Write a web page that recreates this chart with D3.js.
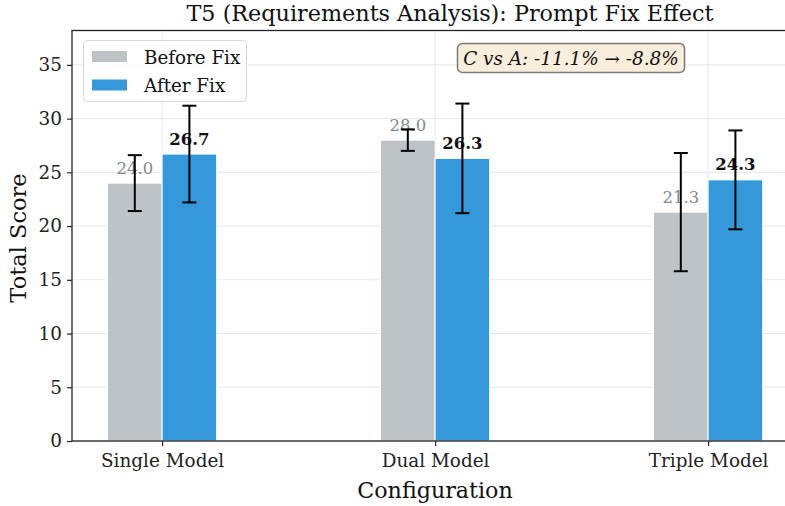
<!DOCTYPE html>
<html><head><meta charset="utf-8">
<script src="https://cdn.jsdelivr.net/npm/d3@7"></script>
<style>
body{margin:0;background:#fff;}
text{font-family:"DejaVu Serif",serif;}
</style></head>
<body><svg id="c" width="785" height="506"></svg>
<script>
const categories = ["Single Model","Dual Model","Triple Model"];
const beforeValues = [24.0, 28.0, 21.3];
const afterValues = [26.7, 26.3, 24.3];
const beforeErr = [2.6, 1.0, 5.5];
const afterErr = [4.5, 5.1, 4.6];
const yTicks = [0,5,10,15,20,25,30,35];
const seriesNames = ["Before Fix","After Fix"];
const annotationText = "C vs A: -11.1% \u2192 -8.8%";
const titleText = "T5 (Requirements Analysis): Prompt Fix Effect";

const colBefore = "#bdc3c7", colAfter = "#3498db", colBeforeLbl = "#7f8c8d";
const svg = d3.select("#c");
const L = 72, R = 798.2, T = 30.5, B = 441;
const x = d3.scaleLinear().domain([-0.33, 2.33]).range([L, R]);
const y = d3.scaleLinear().domain([0, 38.2]).range([B, T]);
const bw = 0.2;

const g = svg.append("g");
// grid
g.selectAll(".hg").data(yTicks).join("line")
  .attr("x1", L).attr("x2", R).attr("y1", d=>y(d)).attr("y2", d=>y(d))
  .attr("stroke", "#e6e6e6").attr("stroke-width", 1);
g.selectAll(".vg").data(categories).join("line")
  .attr("x1", (d,i)=>x(i)).attr("x2", (d,i)=>x(i)).attr("y1", T).attr("y2", B)
  .attr("stroke", "#e6e6e6").attr("stroke-width", 1);

// bars
const series = [
  {vals: beforeValues, err: beforeErr, off: -bw/2, col: colBefore},
  {vals: afterValues, err: afterErr, off: bw/2, col: colAfter}
];
series.forEach(s => {
  g.selectAll(null).data(s.vals).join("rect")
    .attr("x", (d,i)=>x(i + s.off - bw/2))
    .attr("width", x(bw) - x(0))
    .attr("y", d=>y(d)).attr("height", d=>y(0)-y(d))
    .attr("fill", s.col).attr("stroke", "#fff").attr("stroke-width", 1);
});
// value labels
g.selectAll(null).data(beforeValues).join("text")
  .attr("x", (d,i)=>x(i - bw/2)).attr("y", d=>y(d+0.5)-4)
  .attr("text-anchor","middle").attr("font-size", 16.5).attr("fill", colBeforeLbl)
  .text(d=>d.toFixed(1));
g.selectAll(null).data(afterValues).join("text")
  .attr("x", (d,i)=>x(i + bw/2)).attr("y", d=>y(d+0.5)-4)
  .attr("text-anchor","middle").attr("font-size", 16.5).attr("font-weight","bold").attr("fill", "#111")
  .text(d=>d.toFixed(1));
// error bars
series.forEach(s => {
  const eg = g.selectAll(null).data(s.vals).join("g");
  eg.append("line").attr("x1",(d,i)=>x(i+s.off)).attr("x2",(d,i)=>x(i+s.off))
    .attr("y1",(d,i)=>y(d - s.err[i])).attr("y2",(d,i)=>y(d + s.err[i]))
    .attr("stroke","#000").attr("stroke-width",2);
  [-1,1].forEach(sg => {
    eg.append("line").attr("x1",(d,i)=>x(i+s.off)-7).attr("x2",(d,i)=>x(i+s.off)+7)
      .attr("y1",(d,i)=>y(d + sg*s.err[i])).attr("y2",(d,i)=>y(d + sg*s.err[i]))
      .attr("stroke","#000").attr("stroke-width",2);
  });
});

// axes
const yAxis = d3.axisLeft(y).tickValues(yTicks).tickSize(5).tickPadding(5).tickFormat(d3.format("d"));
const ya = svg.append("g").attr("transform",`translate(${L},0)`).call(yAxis);
const xAxis = d3.axisBottom(x).tickValues([0,1,2]).tickSize(5).tickPadding(8).tickFormat(i=>categories[i]);
const xa = svg.append("g").attr("transform",`translate(0,${B})`).call(xAxis);
[ya, xa].forEach(a => {
  a.select(".domain").remove();
  a.selectAll("line").attr("stroke","#222").attr("stroke-width",1.2);
  a.selectAll("text").attr("font-family","DejaVu Serif").attr("font-size",18.4).attr("fill","#222");
});
// spines
svg.append("rect").attr("x",L).attr("y",T).attr("width",R-L).attr("height",B-T)
  .attr("fill","none").attr("stroke","#222").attr("stroke-width",1.3);

// labels
svg.append("text").attr("x", 450).attr("y", 21).attr("text-anchor","middle")
  .attr("font-size", 22.3).attr("fill","#111").text(titleText);
svg.append("text").attr("x", 435).attr("y", 498).attr("text-anchor","middle")
  .attr("font-size", 22.2).attr("fill","#111").text("Configuration");
svg.append("text").attr("transform","translate(26,238) rotate(-90)").attr("text-anchor","middle")
  .attr("font-size", 22.5).attr("fill","#111").text("Total Score");

// legend
const lg = svg.append("g");
lg.append("rect").attr("x",83.5).attr("y",40.5).attr("width",163).attr("height",61).attr("rx",4)
  .attr("fill","rgba(255,255,255,0.85)").attr("stroke","#d6d6d6");
[colBefore, colAfter].forEach((c,i) => {
  lg.append("rect").attr("x",92).attr("y",51 + i*28.5).attr("width",35).attr("height",11).attr("fill",c);
  lg.append("text").attr("x",144).attr("y",63.5 + i*28).attr("font-size",18.3).attr("fill","#111").text(seriesNames[i]);
});

// annotation
svg.append("rect").attr("x",457.5).attr("y",43.5).attr("width",227).attr("height",29).attr("rx",5)
  .attr("fill","#f9eedb").attr("stroke","#7a7a7a").attr("stroke-width",1.5);
svg.append("text").attr("x",571).attr("y",64.5).attr("text-anchor","middle").attr("font-size",18.4)
  .attr("font-style","italic").attr("fill","#111").text(annotationText);
</script></body></html>
